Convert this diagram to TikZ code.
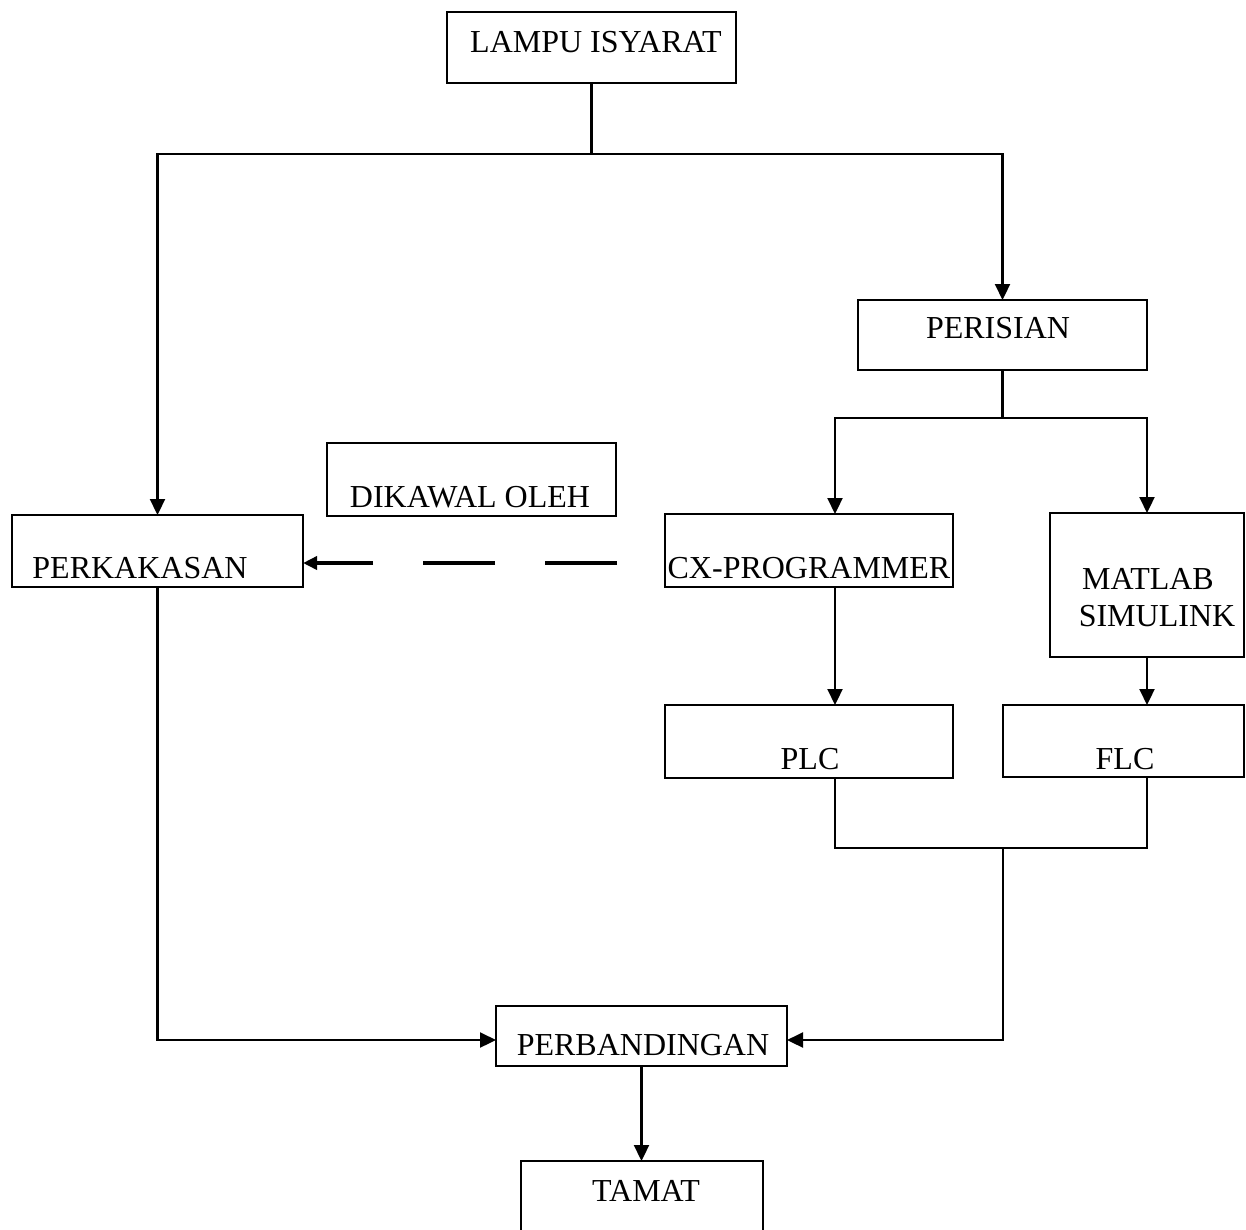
\documentclass[tikz,border=0pt]{standalone}
\usepackage{fontspec}
\setmainfont{Liberation Serif}
\usetikzlibrary{arrows.meta}
\begin{document}
\begin{tikzpicture}[x=1pt,y=-1pt,
  box/.style={draw=black,line width=2.4pt,inner sep=0pt,outer sep=0pt,rectangle},
  txt/.style={anchor=base,inner sep=0pt,font=\fontsize{32}{38}\selectfont},
  link/.style={draw=black,line width=2.2pt},
  arr/.style={link,-{Triangle[length=16pt,width=15pt]}},
  dashline/.style={arr,line width=3.5pt,dash pattern=on 72pt off 50pt,-{Triangle[length=14pt,width=13pt]}}]
\useasboundingbox (0,0) rectangle (1246,1229);
\clip (0,0) rectangle (1246,1229);
% boxes
\node[box,minimum width=289pt,minimum height=71pt] (lampu) at (591.5,47.5) {};
\node[box,minimum width=289pt,minimum height=70pt] (perisian) at (1002.5,335) {};
\node[box,minimum width=291pt,minimum height=72pt] (perkakasan) at (157.5,551) {};
\node[box,minimum width=289pt,minimum height=73pt] (dikawal) at (471.5,479.5) {};
\node[box,minimum width=288pt,minimum height=73pt] (cx) at (809,550.5) {};
\node[box,minimum width=194pt,minimum height=144pt] (matlab) at (1147,585) {};
\node[box,minimum width=288pt,minimum height=73pt] (plc) at (809,741.5) {};
\node[box,minimum width=241pt,minimum height=72pt] (flc) at (1123.5,741) {};
\node[box,minimum width=291pt,minimum height=60pt] (perband) at (641.5,1036) {};
\node[box,minimum width=242pt,minimum height=79pt] (tamat) at (642,1200.5) {};
% texts
\node[txt] (tlampu) at (596,52) {LAMPU ISYARAT};
\node[txt] (tperisian) at (998,338) {PERISIAN};
\node[txt] (tperkakasan) at (140,578) {PERKAKASAN};
\node[txt] (tdikawal) at (470,507) {DIKAWAL OLEH};
\node[txt] (tcx) at (809,578) {CX-PROGRAMMER};
\node[txt] (tmatlab) at (1148,589) {MATLAB};
\node[txt] (tsimulink) at (1157,626) {SIMULINK};
\node[txt] (tplc) at (810,769) {PLC};
\node[txt] (tflc) at (1125,769) {FLC};
\node[txt] (tperband) at (643,1055) {PERBANDINGAN};
\node[txt] (ttamat) at (646,1201) {TAMAT};
% helper coordinates
\coordinate (j1) at (591.5,154);
\coordinate (j2) at (1002.5,418);
\coordinate (colA) at (835,0);
\coordinate (j3) at (1003,848);
\coordinate (rowP) at (0,1040);
\coordinate (dstart) at (617,563);
% connectors
\draw[link] (lampu.south) -- (j1);
\draw[arr] (j1) -| (perkakasan.north);
\draw[arr] (j1) -| (perisian.north);
\draw[link] (perisian.south) -- (j2);
\draw[arr] (j2) -| (cx.north -| colA);
\draw[arr] (j2) -| (matlab.north);
\draw[arr] (cx.south -| colA) -- (plc.north -| colA);
\draw[arr] (matlab.south) -- (matlab.south |- flc.north);
\draw[link] (plc.south -| colA) |- (j3) -| (flc.south -| matlab.south);
\draw[arr] (j3) |- (perband.east |- rowP);
\draw[arr] (perkakasan.south) |- (perband.west |- rowP);
\draw[arr] (perband.south) -- (perband.south |- tamat.north);
\draw[dashline] (dstart) -- (perkakasan.east |- dstart);
\end{tikzpicture}
\end{document}
